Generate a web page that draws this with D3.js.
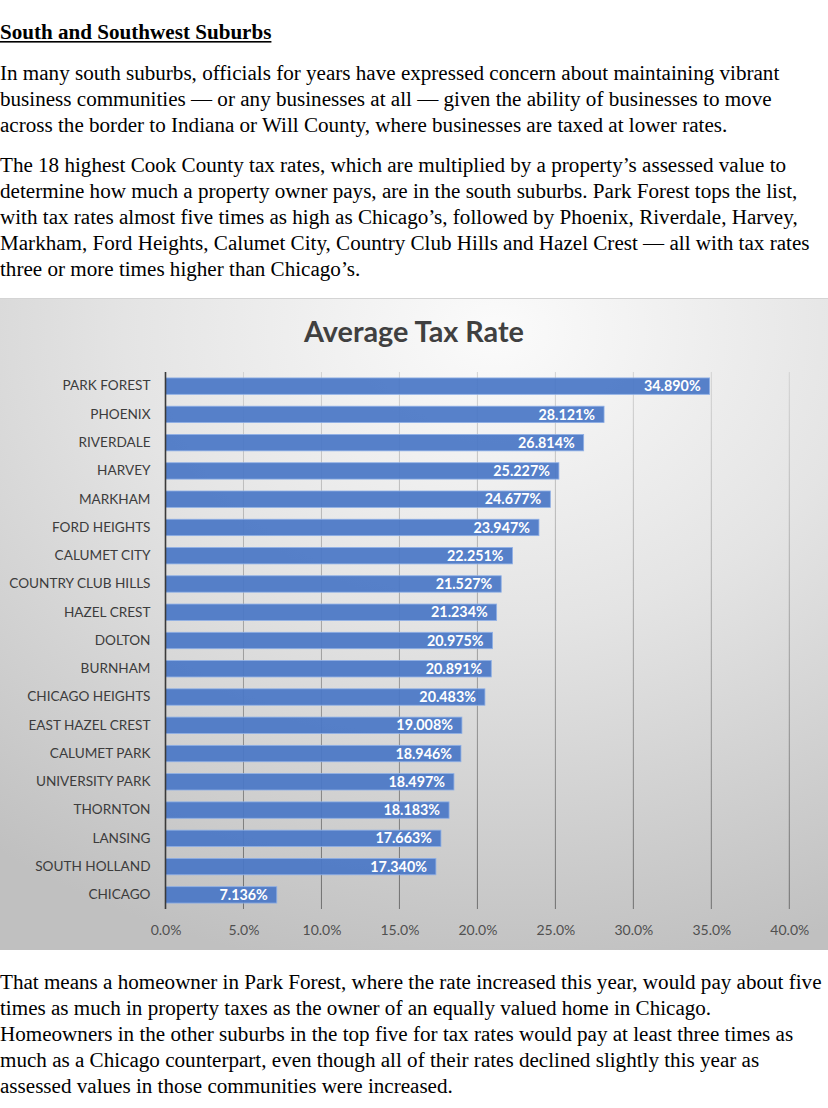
<!DOCTYPE html>
<html>
<head>
<meta charset="utf-8">
<script src="https://cdn.jsdelivr.net/npm/d3@7"></script>
<style>
  html, body { margin: 0; padding: 0; background: #fff; }
  svg { display: block; }
  .prose { font-family: "Liberation Serif", "Times New Roman", serif; font-size: 21.1px; fill: #000; }
  .chart text { font-family: Lato, "Open Sans", sans-serif; }
</style>
</head>
<body>
<svg id="page" width="828" height="1108"></svg>
<script>
// chart data
const towns = ["PARK FOREST", "PHOENIX", "RIVERDALE", "HARVEY", "MARKHAM", "FORD HEIGHTS",
  "CALUMET CITY", "COUNTRY CLUB HILLS", "HAZEL CREST", "DOLTON", "BURNHAM", "CHICAGO HEIGHTS",
  "EAST HAZEL CREST", "CALUMET PARK", "UNIVERSITY PARK", "THORNTON", "LANSING", "SOUTH HOLLAND", "CHICAGO"];
const rates = [34.890, 28.121, 26.814, 25.227, 24.677, 23.947, 22.251, 21.527, 21.234, 20.975,
  20.891, 20.483, 19.008, 18.946, 18.497, 18.183, 17.663, 17.340, 7.136];
const xTicks = [0, 5, 10, 15, 20, 25, 30, 35, 40];
const chartTitle = "Average Tax Rate";

// surrounding article text, one entry per printed line
const heading = "South and Southwest Suburbs";
const paraTop1 = [
  "In many south suburbs, officials for years have expressed concern about maintaining vibrant",
  "business communities \u2014 or any businesses at all \u2014 given the ability of businesses to move",
  "across the border to Indiana or Will County, where businesses are taxed at lower rates."
];
const paraTop2 = [
  "The 18 highest Cook County tax rates, which are multiplied by a property\u2019s assessed value to",
  "determine how much a property owner pays, are in the south suburbs. Park Forest tops the list,",
  "with tax rates almost five times as high as Chicago\u2019s, followed by Phoenix, Riverdale, Harvey,",
  "Markham, Ford Heights, Calumet City, Country Club Hills and Hazel Crest \u2014 all with tax rates",
  "three or more times higher than Chicago\u2019s."
];
const paraBottom = [
  "That means a homeowner in Park Forest, where the rate increased this year, would pay about five",
  "times as much in property taxes as the owner of an equally valued home in Chicago.",
  "Homeowners in the other suburbs in the top five for tax rates would pay at least three times as",
  "much as a Chicago counterpart, even though all of their rates declined slightly this year as",
  "assessed values in those communities were increased."
];

const svg = d3.select("#page");
const lineH = 26;

// ---- prose ----
const head = svg.append("text")
  .attr("class", "prose")
  .attr("x", 0).attr("y", 39)
  .style("font-weight", "bold")
  .text(heading);
const headW = head.node().getComputedTextLength();
svg.append("rect")
  .attr("x", 0).attr("y", 41)
  .attr("width", headW).attr("height", 1.6)
  .attr("fill", "#000");

function writeLines(lines, y0) {
  svg.append("g").selectAll("text")
    .data(lines)
    .join("text")
    .attr("class", "prose")
    .attr("x", 0)
    .attr("y", (d, i) => y0 + i * lineH)
    .text(d => d);
}
writeLines(paraTop1, 79.5);
writeLines(paraTop2, 172);
writeLines(paraBottom, 989);

// ---- chart ----
const chart = svg.append("g").attr("class", "chart");
const box = {x: 0, y: 298, w: 828, h: 652};

let defs = svg.append("defs");
let bg = defs.append("radialGradient")
  .attr("id", "bgGrad")
  .attr("cx", 0.6).attr("cy", 0.05).attr("r", 1.0)
  .attr("fx", 0.6).attr("fy", 0.05);
bg.append("stop").attr("offset", "0%").attr("stop-color", "#fbfbfb");
bg.append("stop").attr("offset", "45%").attr("stop-color", "#e4e4e4");
bg.append("stop").attr("offset", "100%").attr("stop-color", "#c0c0c0");

let plotTop = 372, plotBottom = 909;
let gridGrad = defs.append("linearGradient")
  .attr("id", "gridGrad")
  .attr("gradientUnits", "userSpaceOnUse")
  .attr("x1", 0).attr("y1", plotTop).attr("x2", 0).attr("y2", plotBottom);
gridGrad.append("stop").attr("offset", "0%").attr("stop-color", "#d2d2d2");
gridGrad.append("stop").attr("offset", "100%").attr("stop-color", "#6e6e6e");

chart.append("rect")
  .attr("x", box.x).attr("y", box.y)
  .attr("width", box.w).attr("height", box.h)
  .attr("fill", "url(#bgGrad)");
chart.append("line")
  .attr("x1", 0).attr("x2", box.w)
  .attr("y1", box.y + 0.5).attr("y2", box.y + 0.5)
  .attr("stroke", "#d4d4d4");

let x = d3.scaleLinear()
  .domain([0, 40])
  .range([165.5, 789.3]);
let y = d3.scaleBand()
  .domain(towns)
  .range([plotTop, plotBottom])
  .paddingInner(0.42)
  .paddingOuter(0.21);

chart.append("text")
  .attr("x", 414).attr("y", 342)
  .attr("text-anchor", "middle")
  .style("font-size", "28.8px")
  .style("font-weight", "bold")
  .style("fill", "#404040")
  .text(chartTitle);

// gridlines
chart.append("g").selectAll("line")
  .data(xTicks.slice(1))
  .join("line")
  .attr("x1", d => x(d)).attr("x2", d => x(d))
  .attr("y1", plotTop).attr("y2", plotBottom)
  .attr("stroke", "url(#gridGrad)")
  .attr("stroke-width", 1);

// bars
chart.append("g").selectAll("rect")
  .data(towns)
  .join("rect")
  .attr("x", x(0))
  .attr("y", d => y(d))
  .attr("width", (d, i) => x(rates[i]) - x(0))
  .attr("height", y.bandwidth())
  .attr("fill", "#4a77c6")
  .attr("fill-opacity", 0.93)
  .attr("stroke", "#8fb0e6")
  .attr("stroke-width", 0.8);

// value labels
chart.append("g").selectAll("text")
  .data(towns)
  .join("text")
  .attr("x", (d, i) => x(rates[i]) - 9)
  .attr("y", d => y(d) + y.bandwidth() / 2)
  .attr("dy", "0.36em")
  .attr("text-anchor", "end")
  .style("font-size", "14.3px")
  .style("font-weight", "bold")
  .style("fill", "#fff")
  .text((d, i) => rates[i].toFixed(3) + "%");

// category axis
let yAxis = chart.append("g")
  .attr("transform", `translate(${x(0)},0)`)
  .call(d3.axisLeft(y).tickSize(0).tickPadding(15));
yAxis.select(".domain")
  .attr("d", `M0,${plotTop}V${plotBottom}`)
  .attr("stroke", "#3a3a3a")
  .attr("stroke-width", 1.6);
yAxis.selectAll("text")
  .style("font-size", "13.6px")
  .style("fill", "#3c3c3c")
  .attr("font-family", null);

// value axis
let xAxis = chart.append("g")
  .attr("transform", `translate(0,${plotBottom})`)
  .call(d3.axisBottom(x).tickValues(xTicks).tickSize(0).tickPadding(16)
    .tickFormat(d => d.toFixed(1) + "%"));
xAxis.select(".domain").remove();
xAxis.selectAll("text")
  .style("font-size", "14px")
  .style("fill", "#505050")
  .attr("font-family", null);
</script>
</body>
</html>
